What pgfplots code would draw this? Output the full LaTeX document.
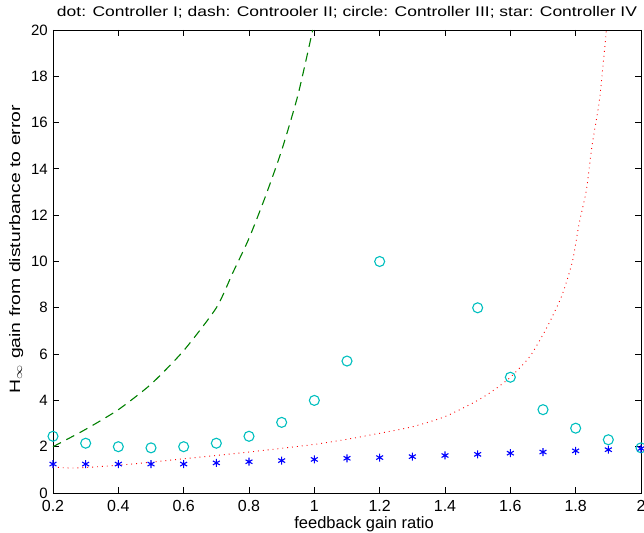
\documentclass[border=0pt]{standalone}
\usepackage{graphicx}
\usepackage{pgfplots}
\pgfplotsset{compat=1.18}
\usepackage{fontspec}
\setmainfont{Liberation Sans}
\definecolor{mgreen}{rgb}{0,0.5,0}
\definecolor{mcyan}{rgb}{0,0.75,0.75}
\begin{document}
\begin{tikzpicture}
\begin{axis}[
  scale only axis,
  width=588bp, height=463bp,
  xmin=0.2, xmax=2, ymin=0, ymax=20,
  xtick={0.2,0.4,...,2.01},
  ytick={0,2,...,20},
  tick align=inside,
  major tick length=6bp,
  axis line style={line width=0.8bp},
  every tick/.style={black, line width=0.8bp},
  /pgf/number format/assume math mode=true,
  xticklabel style={font=\fontsize{16bp}{18bp}\selectfont, anchor=base, yshift=-18.5bp, inner sep=0pt},
  yticklabel style={font=\fontsize{15bp}{17bp}\selectfont, anchor=east, xshift=-5bp, inner sep=0pt},
  xlabel={feedback gain ratio},
  ylabel={\resizebox{288bp}{\height}{H$_\infty$ gain from disturbance to error}},
  xlabel style={font=\fontsize{16.5bp}{19bp}\selectfont, at={(axis description cs:0.529,-0.0767)}, anchor=base, inner sep=0pt},
  ylabel style={font=\fontsize{15bp}{17bp}\selectfont, at={(axis description cs:-0.0561,0.527)}, anchor=base, inner sep=0pt},
  title={\resizebox{580bp}{\height}{dot: Controller I; dash: Controoler II; circle: Controller III; star: Controller IV}},
  title style={font=\fontsize{14bp}{16bp}\selectfont, at={(axis description cs:0.5,1.0173)}, anchor=base, inner sep=0pt},
  clip=false,
]
\coordinate (SW) at (rel axis cs:0,0);
\coordinate (NE) at (rel axis cs:1,1);
% Controller I (dot)
\addplot[red, line width=0.9bp, dash pattern=on 0.9bp off 4bp, smooth, tension=0.4] coordinates {
 (0.2,1.12) (0.25,1.08) (0.3,1.1) (0.4,1.2) (0.5,1.33) (0.6,1.48) (0.7,1.62) (0.8,1.77)
 (0.9,1.93) (1.0,2.1) (1.1,2.32) (1.2,2.58) (1.3,2.86) (1.4,3.3)
 (1.5,4.0) (1.55,4.45) (1.6,5.0) (1.66,5.9) (1.71,7.1) (1.757,8.5) (1.79,10.0) (1.81,11.6)
 (1.833,13.1) (1.85,15.0) (1.873,17) (1.894,20)
};
% Controller II (dash)
\addplot[mgreen, line width=1.1bp, dash pattern=on 9bp off 6bp, smooth, tension=0.4] coordinates {
 (0.2,2.0) (0.3,2.75) (0.4,3.6) (0.5,4.7) (0.6,6.15) (0.7,8.0) (0.75,9.5)
 (0.8,11.0) (0.85,12.8) (0.9,14.8) (0.95,17.2) (0.995,20)
};
% Controller III (circle)
\addplot[only marks, mark=o, mark size=5bp, mcyan, mark options={line width=1.1bp}] coordinates {
 (0.2,2.45) (0.3,2.15) (0.4,2.0) (0.5,1.95) (0.6,2.0) (0.7,2.15) (0.8,2.45)
 (0.9,3.05) (1.0,4.0) (1.1,5.7) (1.2,10.0) (1.5,8.0) (1.6,5.0) (1.7,3.6)
 (1.8,2.8) (1.9,2.3) (2.0,1.95)
};
% Controller IV (star)
\addplot[only marks, mark=asterisk, mark size=4bp, blue, mark options={line width=1.1bp}] coordinates {
 (0.2,1.25) (0.3,1.25) (0.4,1.25) (0.5,1.25) (0.6,1.25) (0.7,1.3) (0.8,1.35)
 (0.9,1.4) (1.0,1.45) (1.1,1.5) (1.2,1.53) (1.3,1.57) (1.4,1.62) (1.5,1.67)
 (1.6,1.72) (1.7,1.77) (1.8,1.82) (1.9,1.87) (2.0,1.92)
};
\end{axis}
\pgfresetboundingbox
\path[use as bounding box] ([xshift=-53bp,yshift=-40bp]SW) rectangle ([xshift=3bp,yshift=30bp]NE);
\end{tikzpicture}
\end{document}
